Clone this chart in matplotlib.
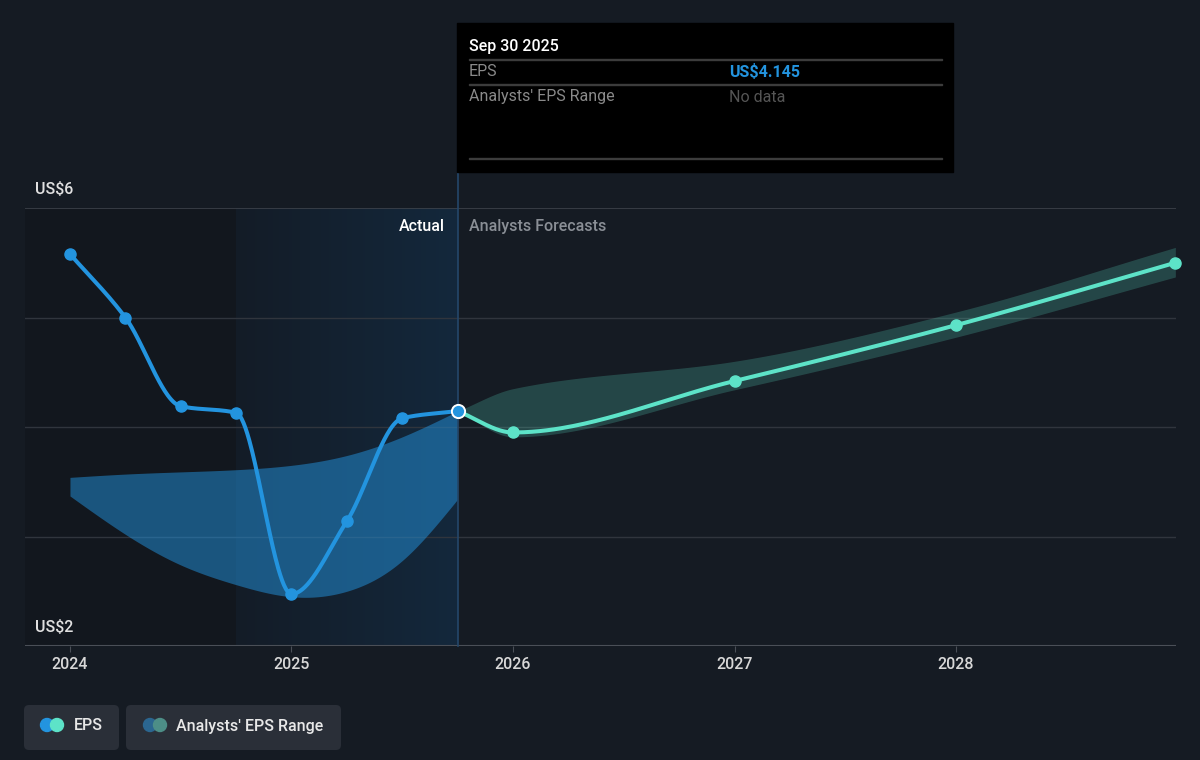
import numpy as np
import matplotlib
matplotlib.use("Agg")
import matplotlib.pyplot as plt
from matplotlib.colors import LinearSegmentedColormap
from matplotlib.patches import Rectangle, FancyBboxPatch, Circle
from matplotlib.transforms import IdentityTransform

plt.rcParams['font.family'] = ['Roboto', 'DejaVu Sans']

# Donnees
actual_x = [2024.0, 2024.25, 2024.5, 2024.75, 2025.0, 2025.25, 2025.5, 2025.75]
actual_eps = [5.58, 5.0, 4.19, 4.13, 2.475, 3.14, 4.08, 4.145]
past_high = [3.54, 3.57, 3.59, 3.61, 3.65, 3.74, 3.91, 4.145]
past_low = [3.37, 3.02, 2.74, 2.56, 2.45, 2.50, 2.78, 3.34]

forecast_x = [2025.75, 2026.0, 2027.0, 2028.0, 2028.99]
forecast_eps = [4.145, 3.95, 4.42, 4.93, 5.50]
forecast_high = [4.145, 4.35, 4.60, 5.05, 5.64]
forecast_low = [4.145, 3.91, 4.34, 4.82, 5.37]

years = [2024, 2025, 2026, 2027, 2028]
year_labels = ["2024", "2025", "2026", "2027", "2028"]

BG = "#151b23"
BLUE = "#2394df"
TEAL = "#5de3c8"
W, H = 1200, 760


def pchip(x, y, n=60):
    # interpolation monotone (Fritsch-Carlson), pas de scipy
    x = np.asarray(x, float)
    y = np.asarray(y, float)
    h = np.diff(x)
    d = np.diff(y) / h
    m = np.zeros_like(y)
    m[0], m[-1] = d[0], d[-1]
    for k in range(1, len(x) - 1):
        if d[k - 1] * d[k] <= 0:
            m[k] = 0
        else:
            w1 = 2 * h[k] + h[k - 1]
            w2 = h[k] + 2 * h[k - 1]
            m[k] = (w1 + w2) / (w1 / d[k - 1] + w2 / d[k])
    return hermite(x, y, m, n)


def natural(x, y, n=60):
    # spline cubique naturelle -> pentes
    x = np.asarray(x, float)
    y = np.asarray(y, float)
    N = len(x)
    h = np.diff(x)
    A = np.zeros((N, N))
    r = np.zeros(N)
    A[0, 0] = A[-1, -1] = 1
    for i in range(1, N - 1):
        A[i, i - 1] = h[i - 1]
        A[i, i] = 2 * (h[i - 1] + h[i])
        A[i, i + 1] = h[i]
        r[i] = 6 * ((y[i + 1] - y[i]) / h[i] - (y[i] - y[i - 1]) / h[i - 1])
    M = np.linalg.solve(A, r)
    m = np.zeros(N)
    for i in range(N - 1):
        m[i] = (y[i + 1] - y[i]) / h[i] - h[i] * (2 * M[i] + M[i + 1]) / 6
    m[-1] = (y[-1] - y[-2]) / h[-1] + h[-1] * (M[-2] + 2 * M[-1]) / 6
    return hermite(x, y, m, n)


def hermite(x, y, m, n):
    h = np.diff(x)
    xs, ys = [], []
    for k in range(len(x) - 1):
        t = np.linspace(0, 1, n)
        h00 = 2 * t**3 - 3 * t**2 + 1
        h10 = t**3 - 2 * t**2 + t
        h01 = -2 * t**3 + 3 * t**2
        h11 = t**3 - t**2
        xs.append(x[k] + t * h[k])
        ys.append(h00 * y[k] + h10 * h[k] * m[k] + h01 * y[k + 1] + h11 * h[k] * m[k + 1])
    return np.concatenate(xs), np.concatenate(ys)


def px(x, y):
    return (x, H - y)


fig = plt.figure(figsize=(12, 7.6), dpi=100, facecolor=BG)
ax = fig.add_axes([25 / W, (H - 646) / H, (1176 - 25) / W, (646 - 208) / H])
ax.set_facecolor(BG)
ax.set_xlim(2023.797, 2028.993)
ax.set_ylim(2, 6)
for s in ax.spines.values():
    s.set_visible(False)

# zones de fond
ax.axvspan(2023.797, 2024.75, color="#12171e", zorder=0, lw=0)
grad = np.linspace(0, 1, 256).reshape(1, -1)
cmap = LinearSegmentedColormap.from_list("bl", ["#141c27", "#13283c"])
ax.imshow(grad, extent=[2024.75, 2025.75, 2, 6], aspect="auto", cmap=cmap, zorder=0.5)

# grille
for v in [3, 4, 5]:
    ax.axhline(v, color="#30353d", lw=1, zorder=1)
ax.axhline(6, color="#3d424a", lw=1.2, zorder=1)
ax.axhline(2, color="#4a4f57", lw=1.5, zorder=1)

# bandes
bx, bh = natural(actual_x, past_high)
_, bl = natural(actual_x, past_low)
ax.fill_between(bx, bl, bh, color=BLUE, alpha=0.5, lw=0, zorder=2)
fx, fh = pchip(forecast_x, forecast_high)
_, fl = pchip(forecast_x, forecast_low)
ax.fill_between(fx, fl, fh, color=TEAL, alpha=0.22, lw=0, zorder=2)

# ligne verticale
ax.plot([2025.75, 2025.75], [2, 6.33], color="#24476a", lw=1.2, zorder=2, clip_on=False)

# courbes EPS
ex, ey = pchip(actual_x, actual_eps)
ax.plot(ex, ey, color=BLUE, lw=2.9, zorder=4, solid_capstyle="round")
ax.plot(actual_x[:-1], actual_eps[:-1], "o", color=BLUE, ms=8, zorder=5)
px_, py_ = pchip(forecast_x, forecast_eps)
ax.plot(px_, py_, color=TEAL, lw=2.9, zorder=3, solid_capstyle="round")
ax.plot(forecast_x[1:], forecast_eps[1:], "o", color=TEAL, ms=8, zorder=5, clip_on=False)
ax.plot(actual_x[-1], actual_eps[-1], "o", color=BLUE, ms=9.5, mec="white", mew=1.4, zorder=6)

ax.set_yticks([])
ax.set_xticks(years)
ax.set_xticklabels(year_labels, fontweight="medium")
ax.tick_params(axis="x", length=4.5, color="#4a4f57", labelcolor="#d8d8d8", labelsize=11.5, pad=3.5)

ax.annotate("Actual", (2025.75, 6), xytext=(-9, -13), textcoords="offset points",
            ha="right", va="center", color="#ffffff", fontsize=11.5, fontweight="medium")
ax.annotate("Analysts Forecasts", (2025.75, 6), xytext=(8, -13), textcoords="offset points",
            ha="left", va="center", color="#8a8f96", fontsize=11.5, fontweight="medium")

# etiquettes axe y
idt = IdentityTransform()
fig.text(*px(35, 190), "US$6", transform=idt, color="#e0e0e0", fontsize=11.5, va="center",
         fontweight="medium")
fig.text(*px(35, 628), "US$2", transform=idt, color="#e0e0e0", fontsize=11.5, va="center",
         fontweight="medium")

# infobulle
fig.add_artist(Rectangle(px(457, 172), 953 - 457, 172 - 23, transform=idt, color="black", zorder=10))
for yy in [60, 85, 159]:
    fig.add_artist(Rectangle(px(469, yy), 942 - 469, 1, transform=idt, color="#3c3c3c", zorder=11))
fig.text(*px(469, 46), "Sep 30 2025", transform=idt, color="white", fontsize=11.5, va="center",
         fontweight="medium", zorder=12)
fig.text(*px(469, 72), "EPS", transform=idt, color="#8a8a8a", fontsize=11.5, va="center", zorder=12)
fig.text(*px(729, 72), "US$4.145", transform=idt, color=BLUE, fontsize=11.5, va="center",
         fontweight="bold", zorder=12)
fig.text(*px(469, 97), "Analysts' EPS Range", transform=idt, color="#8a8a8a", fontsize=11.5,
         va="center", zorder=12)
fig.text(*px(729, 97), "No data", transform=idt, color="#555555", fontsize=11.5, va="center", zorder=12)

# legende
for x0, x1 in [(24, 119), (126, 341)]:
    fig.add_artist(FancyBboxPatch(px(x0, 750), x1 - x0, 45, transform=idt,
                                  boxstyle="round,pad=0,rounding_size=5", fc="#2a2f38", ec="none"))
for (cx, c) in [(47, BLUE), (57, TEAL), (150, "#2b6690"), (160, "#4d8e87")]:
    fig.add_artist(Circle(px(cx, 725), 6.5, transform=idt, color=c))
fig.text(*px(74, 726), "EPS", transform=idt, color="#e8e8e8", fontsize=11.5, va="center",
         fontweight="medium")
fig.text(*px(176, 726), "Analysts' EPS Range", transform=idt, color="#e8e8e8", fontsize=11.5,
         va="center", fontweight="medium")

fig.savefig("out.png", dpi=100, facecolor=BG)
